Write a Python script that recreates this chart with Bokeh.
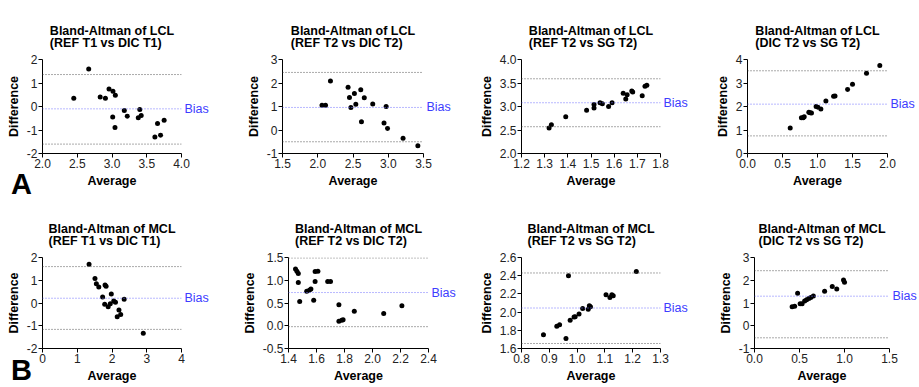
from bokeh.plotting import figure
from bokeh.models import Range1d, FixedTicker, Span, LinearAxis, GridBox, Div
from bokeh.layouts import column, row
from bokeh.embed import file_html
from bokeh.resources import INLINE

FONT = "Liberation Sans"

# ---------------- titles ----------------
titles = [
    "Bland-Altman of LCL\n(REF T1 vs DIC T1)",
    "Bland-Altman of LCL\n(REF T2 vs DIC T2)",
    "Bland-Altman of LCL\n(REF T2 vs SG T2)",
    "Bland-Altman of LCL\n(DIC T2 vs SG T2)",
    "Bland-Altman of MCL\n(REF T1 vs DIC T1)",
    "Bland-Altman of MCL\n(REF T2 vs DIC T2)",
    "Bland-Altman of MCL\n(REF T2 vs SG T2)",
    "Bland-Altman of MCL\n(DIC T2 vs SG T2)",
]

# ---------------- LCL REF T1 vs DIC T1 ----------------
lcl_r1d1_avg = [2.45, 2.665, 2.83, 2.905, 2.957, 3.014, 3.048, 3.01, 3.043, 3.177,
                3.22, 3.378, 3.40, 3.42, 3.617, 3.655, 3.699, 3.75]
lcl_r1d1_diff = [0.35, 1.60, 0.40, 0.35, 0.75, 0.65, 0.48, -0.45, -0.89, -0.17,
                 -0.41, -0.48, -0.13, -0.38, -1.30, -0.72, -1.22, -0.58]
lcl_r1d1_lines = [1.36, -0.10, -1.60]   # upper LoA, bias, lower LoA

# ---------------- LCL REF T2 vs DIC T2 ----------------
lcl_r2d2_avg = [2.06, 2.11, 2.18, 2.43, 2.45, 2.47, 2.52, 2.54, 2.61, 2.62, 2.66,
                2.78, 2.97, 2.94, 2.99, 3.21, 3.42]
lcl_r2d2_diff = [1.05, 1.05, 2.09, 1.82, 1.38, 0.96, 1.55, 1.10, 1.71, 0.35, 1.37,
                 1.11, 1.00, 0.30, 0.06, -0.35, -0.67]
lcl_r2d2_lines = [2.45, 0.96, -0.50]

# ---------------- LCL REF T2 vs SG T2 ----------------
lcl_r2s2_avg = [1.319, 1.329, 1.391, 1.481, 1.513, 1.513, 1.539, 1.549, 1.576, 1.591,
                1.639, 1.65, 1.656, 1.676, 1.68, 1.721, 1.733, 1.741]
lcl_r2s2_diff = [2.54, 2.61, 2.78, 2.92, 2.97, 3.04, 3.08, 3.06, 3.00, 3.08,
                 3.28, 3.16, 3.25, 3.33, 3.31, 3.23, 3.43, 3.45]
lcl_r2s2_lines = [3.59, 3.08, 2.57]

# ---------------- LCL DIC T2 vs SG T2 ----------------
lcl_d2s2_avg = [0.61, 0.77, 0.795, 0.81, 0.876, 0.895, 0.914, 0.98, 1.005, 1.048,
                1.12, 1.23, 1.25, 1.43, 1.50, 1.70, 1.89]
lcl_d2s2_diff = [1.09, 1.52, 1.52, 1.56, 1.76, 1.73, 1.72, 2.00, 1.97, 1.89,
                 2.23, 2.44, 2.45, 2.72, 2.95, 3.42, 3.74]
lcl_d2s2_lines = [3.52, 2.10, 0.75]

# ---------------- MCL REF T1 vs DIC T1 ----------------
mcl_r1d1_avg = [1.34, 1.51, 1.55, 1.62, 1.73, 1.80, 1.83, 1.79, 1.89, 1.95, 1.98,
                2.05, 2.10, 2.15, 2.20, 2.25, 2.35, 2.90]
mcl_r1d1_diff = [1.70, 1.08, 0.85, 0.70, 0.26, 0.79, 0.74, -0.06, -0.17, -0.03, 0.40,
                 0.09, 0.03, -0.60, -0.31, -0.50, 0.16, -1.33]
mcl_r1d1_lines = [1.60, 0.21, -1.16]

# ---------------- MCL REF T2 vs DIC T2 ----------------
mcl_r2d2_avg = [1.45, 1.46, 1.47, 1.47, 1.48, 1.53, 1.55, 1.56, 1.58, 1.59, 1.59,
                1.61, 1.68, 1.70, 1.76, 1.76, 1.78, 1.79, 1.87, 2.08, 2.21]
mcl_r2d2_diff = [1.245, 1.20, 1.15, 0.95, 0.535, 0.76, 0.78, 0.81, 0.56, 0.97, 1.19,
                 1.20, 0.97, 0.97, 0.46, 0.10, 0.12, 0.13, 0.32, 0.27, 0.44]
mcl_r2d2_lines = [1.49, 0.73, -0.02]

# ---------------- MCL REF T2 vs SG T2 ----------------
mcl_r2s2_avg = [0.879, 0.927, 0.937, 0.96, 0.969, 0.975, 0.989, 0.993, 1.007, 1.02,
                1.04, 1.044, 1.048, 1.104, 1.118, 1.125, 1.13, 1.213]
mcl_r2s2_diff = [1.75, 1.845, 1.86, 1.71, 2.40, 1.91, 1.945, 1.95, 1.98, 2.04,
                 2.03, 2.07, 2.06, 2.19, 2.16, 2.19, 2.18, 2.445]
mcl_r2s2_lines = [2.43, 2.045, 1.655]

# ---------------- MCL DIC T2 vs SG T2 ----------------
mcl_d2s2_avg = [0.418, 0.446, 0.479, 0.507, 0.529, 0.557, 0.579, 0.604, 0.625, 0.654,
                0.779, 0.864, 0.914, 0.989, 1.0]
mcl_d2s2_diff = [0.83, 0.86, 1.43, 0.97, 0.97, 1.09, 1.14, 1.20, 1.24, 1.31,
                 1.52, 1.72, 1.61, 2.01, 1.91]
mcl_d2s2_lines = [2.42, 1.30, -0.53]

# ---------------- ticks ----------------
x_ticks = [
    [2.0, 2.5, 3.0, 3.5, 4.0],
    [1.5, 2.0, 2.5, 3.0, 3.5],
    [1.2, 1.3, 1.4, 1.5, 1.6, 1.7, 1.8],
    [0.0, 0.5, 1.0, 1.5, 2.0],
    [0, 1, 2, 3, 4],
    [1.4, 1.6, 1.8, 2.0, 2.2, 2.4],
    [0.8, 0.9, 1.0, 1.1, 1.2, 1.3],
    [0.0, 0.5, 1.0, 1.5],
]
x_tick_labels = [
    ["2.0", "2.5", "3.0", "3.5", "4.0"],
    ["1.5", "2.0", "2.5", "3.0", "3.5"],
    ["1.2", "1.3", "1.4", "1.5", "1.6", "1.7", "1.8"],
    ["0.0", "0.5", "1.0", "1.5", "2.0"],
    ["0", "1", "2", "3", "4"],
    ["1.4", "1.6", "1.8", "2.0", "2.2", "2.4"],
    ["0.8", "0.9", "1.0", "1.1", "1.2", "1.3"],
    ["0.0", "0.5", "1.0", "1.5"],
]
y_ticks = [
    [-2, -1, 0, 1, 2],
    [-1, 0, 1, 2, 3],
    [2.0, 2.5, 3.0, 3.5, 4.0],
    [0, 1, 2, 3, 4],
    [-2, -1, 0, 1, 2],
    [-0.5, 0.0, 0.5, 1.0, 1.5],
    [1.6, 1.8, 2.0, 2.2, 2.4, 2.6],
    [-1, 0, 1, 2, 3],
]
y_tick_labels = [
    ["-2", "-1", "0", "1", "2"],
    ["-1", "0", "1", "2", "3"],
    ["2.0", "2.5", "3.0", "3.5", "4.0"],
    ["0", "1", "2", "3", "4"],
    ["-2", "-1", "0", "1", "2"],
    ["-0.5", "0.0", "0.5", "1.0", "1.5"],
    ["1.6", "1.8", "2.0", "2.2", "2.4", "2.6"],
    ["-1", "0", "1", "2", "3"],
]
bias_text = "Bias"
panel_letters = ["A", "B"]

avgs = [lcl_r1d1_avg, lcl_r2d2_avg, lcl_r2s2_avg, lcl_d2s2_avg,
        mcl_r1d1_avg, mcl_r2d2_avg, mcl_r2s2_avg, mcl_d2s2_avg]
diffs = [lcl_r1d1_diff, lcl_r2d2_diff, lcl_r2s2_diff, lcl_d2s2_diff,
         mcl_r1d1_diff, mcl_r2d2_diff, mcl_r2s2_diff, mcl_d2s2_diff]
lines = [lcl_r1d1_lines, lcl_r2d2_lines, lcl_r2s2_lines, lcl_d2s2_lines,
         mcl_r1d1_lines, mcl_r2d2_lines, mcl_r2s2_lines, mcl_d2s2_lines]

# layout: (width, border_left, border_right) per panel; rows share height settings
geom = [
    (230, 42, 49), (230, 52, 37), (230, 61, 29), (229, 57, 32),
    (230, 42, 49), (230, 58, 32), (230, 61, 29), (229, 64, 28),
]
row_geom = [(195, 59, 42), (190, 62, 36)]  # height, border_top, border_bottom


def style_axis(ax, ticks, labels, lab):
    ax.ticker = FixedTicker(ticks=ticks, minor_ticks=[])
    ax.major_label_overrides = dict(zip(ticks, labels))
    ax.axis_label = lab
    ax.major_tick_out = 4
    ax.major_tick_in = 0
    ax.minor_tick_out = 0
    ax.minor_tick_in = 0
    ax.axis_line_color = "black"
    ax.axis_line_width = 1
    ax.major_tick_line_color = "black"
    ax.major_label_text_font = FONT
    ax.major_label_text_font_size = "12px"
    ax.major_label_text_color = "#222222"
    ax.major_label_standoff = 1
    ax.axis_label_text_font = FONT
    ax.axis_label_text_font_size = "12.5px"
    ax.axis_label_text_font_style = "bold"
    ax.axis_label_text_color = "black"
    ax.axis_label_standoff = 3


def make_panel(i):
    w, bl, br = geom[i]
    h, bt, bb = row_geom[i // 4]
    xt, yt = x_ticks[i], y_ticks[i]
    p = figure(width=w, height=h, output_backend="svg", toolbar_location=None,
               x_range=Range1d(xt[0], xt[-1]), y_range=Range1d(yt[0], yt[-1]),
               min_border_left=bl, min_border_right=br,
               min_border_top=bt, min_border_bottom=bb,
               title=titles[i])
    p.title.text_font = FONT
    p.title.text_font_size = "12.5px"
    p.title.text_font_style = "bold"
    p.title.text_color = "black"
    p.title.text_line_height = 0.875
    p.title.align = "center"
    p.title.vertical_align = "bottom"
    p.title.standoff = 5
    p.title.padding = 7
    p.outline_line_color = None
    p.background_fill_color = None
    p.border_fill_color = None
    p.xgrid.visible = False
    p.ygrid.visible = False

    style_axis(p.xaxis[0], xt, x_tick_labels[i], "Average")
    style_axis(p.yaxis[0], yt, y_tick_labels[i], "Difference")

    upper, bias, lower = lines[i]
    p.add_layout(Span(location=upper, dimension="width", line_color="#555555",
                      line_dash="1 2", line_width=1))
    p.add_layout(Span(location=lower, dimension="width", line_color="#555555",
                      line_dash="1 2", line_width=1))
    p.add_layout(Span(location=bias, dimension="width", line_color="#7272ff",
                      line_dash="1 2", line_width=1))

    # "Bias" label as a tick label of an extra right axis at the bias level
    bias_axis = LinearAxis(ticker=FixedTicker(ticks=[bias], minor_ticks=[]),
                           major_label_overrides={bias: bias_text})
    bias_axis.axis_line_color = None
    bias_axis.major_tick_line_color = None
    bias_axis.minor_tick_line_color = None
    bias_axis.major_tick_out = 0
    bias_axis.major_tick_in = 0
    bias_axis.major_label_standoff = 3
    bias_axis.major_label_text_font = FONT
    bias_axis.major_label_text_font_size = "12.5px"
    bias_axis.major_label_text_color = "#3d3dff"
    p.add_layout(bias_axis, "right")

    p.scatter(avgs[i], diffs[i], size=5, fill_color="black", line_color=None)
    return p


def letter_div(letter, w, h, pad_top):
    html = ('<div style="box-sizing:border-box;width:%dpx;'
            'padding:%dpx 0 0 11px;font-family:\'Liberation Sans\',Arial,sans-serif;'
            'font-size:29px;font-weight:bold;line-height:22px;color:black;">%s</div>'
            % (w, pad_top, letter))
    return Div(text=html, width=w, height=h, margin=0,
               styles={"position": "relative", "z-index": "5", "pointer-events": "none"})


panels = [make_panel(i) for i in range(8)]

divA = letter_div(panel_letters[0], geom[0][0], row_geom[0][0], 173)
divB = letter_div(panel_letters[1], geom[4][0], row_geom[1][0], 164)
cellA = GridBox(children=[(panels[0], 0, 0), (divA, 0, 0)])
cellB = GridBox(children=[(panels[4], 0, 0), (divB, 0, 0)])

layout = column(row(cellA, *panels[1:4]), row(cellB, *panels[5:8]))

open("out.html", "w").write(file_html(layout, INLINE))
